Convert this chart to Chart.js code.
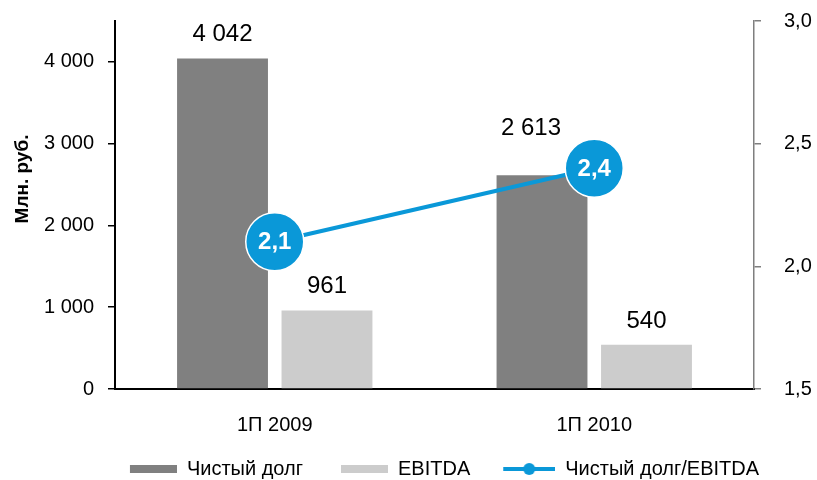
<!DOCTYPE html>
<html>
<head>
<meta charset="utf-8">
<script src="https://cdn.jsdelivr.net/npm/chart.js@4.4.1/dist/chart.umd.min.js"></script>
<style>
  html, body { margin: 0; padding: 0; background: #fff; }
</style>
</head>
<body>
<canvas id="chart" width="817" height="480"></canvas>
<script>
// Data
const categories = ['1П 2009', '1П 2010'];
const netDebt = [4042, 2613];
const ebitda = [961, 540];
const debtToEbitda = [2.1, 2.4];
const leftTicks = [0, 1000, 2000, 3000, 4000];
const rightTicks = [1.5, 2.0, 2.5, 3.0];

const FONT = "'Liberation Sans', Arial, sans-serif";
const BLUE = '#0a98d8';
const DARK = '#808080';
const LIGHT = '#cccccc';

// manual label nudges (x, y) for the bar value labels, per dataset
const labelNudge = [[[0, 0], [-11, -23]], [[0, 0], [0, 0]]];

const fmtThousands = v => String(v).replace(/\B(?=(\d{3})+(?!\d))/g, ' ');
const fmtComma = v => v.toFixed(1).replace('.', ',');

// Legend swatches as small canvases (right aligned inside an 80px box)
function swatch(kind, color) {
    const c = document.createElement('canvas');
    c.width = 80; c.height = 14;
    const g = c.getContext('2d');
    if (kind === 'bar') {
        g.fillStyle = color;
        g.fillRect(33, 3, 47, 8);
    } else {
        g.strokeStyle = color;
        g.lineWidth = 4;
        g.beginPath(); g.moveTo(28, 7); g.lineTo(80, 7); g.stroke();
        g.fillStyle = color;
        g.beginPath(); g.arc(54, 7, 6, 0, Math.PI * 2); g.fill();
    }
    return c;
}

// Value labels above bars and inside line points
const valueLabels = {
    id: 'valueLabels',
    afterDatasetsDraw(chart) {
        const ctx = chart.ctx;
        ctx.save();
        [0, 1].forEach(di => {
            const meta = chart.getDatasetMeta(di);
            meta.data.forEach((bar, i) => {
                const nudge = labelNudge[di][i];
                ctx.font = '24px ' + FONT;
                ctx.fillStyle = '#000';
                ctx.textAlign = 'center';
                ctx.textBaseline = 'alphabetic';
                ctx.fillText(fmtThousands(chart.data.datasets[di].data[i]), bar.x + nudge[0], bar.y - 17 + nudge[1]);
            });
        });
        const lineMeta = chart.getDatasetMeta(2);
        lineMeta.data.forEach((pt, i) => {
            ctx.font = 'bold 24px ' + FONT;
            ctx.fillStyle = '#fff';
            ctx.textAlign = 'center';
            ctx.textBaseline = 'middle';
            ctx.fillText(fmtComma(debtToEbitda[i]), pt.x, pt.y + 1);
        });
        ctx.restore();
    }
};

// Left axis title
const axisTitle = {
    id: 'axisTitle',
    afterDraw(chart) {
        const ctx = chart.ctx;
        ctx.save();
        ctx.translate(23, 179);
        ctx.rotate(-Math.PI / 2);
        ctx.font = 'bold 19px ' + FONT;
        ctx.fillStyle = '#000';
        ctx.textAlign = 'center';
        ctx.textBaseline = 'middle';
        ctx.fillText('Млн. руб.', 0, 0);
        ctx.restore();
    }
};

new Chart(document.getElementById('chart'), {
    type: 'bar',
    data: {
        labels: categories,
        datasets: [
            {
                label: 'Чистый долг',
                data: netDebt,
                backgroundColor: DARK,
                yAxisID: 'y',
                order: 2,
                categoryPercentage: 0.654,
                barPercentage: 0.87,
            },
            {
                label: 'EBITDA',
                data: ebitda,
                backgroundColor: LIGHT,
                yAxisID: 'y',
                order: 2,
                categoryPercentage: 0.654,
                barPercentage: 0.87,
            },
            {
                type: 'line',
                label: 'Чистый долг/EBITDA',
                data: debtToEbitda,
                borderColor: BLUE,
                borderWidth: 4,
                pointRadius: 29,
                pointBackgroundColor: BLUE,
                pointBorderColor: '#ffffff',
                pointBorderWidth: 1.5,
                yAxisID: 'y1',
                order: 1,
            },
        ],
    },
    options: {
        responsive: false,
        animation: false,
        events: [],
        layout: { autoPadding: false, padding: { left: 39, top: 21, right: 0, bottom: 0 } },
        plugins: {
            tooltip: { enabled: false },
            legend: {
                position: 'bottom',
                maxHeight: 26,
                labels: {
                    usePointStyle: true,
                    pointStyleWidth: 80,
                    padding: 5,
                    color: '#000',
                    font: { family: FONT, size: 20 },
                    generateLabels: () => [
                        { text: 'Чистый долг', pointStyle: swatch('bar', DARK), fillStyle: DARK, strokeStyle: DARK, lineWidth: 0 },
                        { text: 'EBITDA', pointStyle: swatch('bar', LIGHT), fillStyle: LIGHT, strokeStyle: LIGHT, lineWidth: 0 },
                        { text: 'Чистый долг/EBITDA', pointStyle: swatch('line', BLUE), fillStyle: BLUE, strokeStyle: BLUE, lineWidth: 0 },
                    ],
                },
            },
        },
        scales: {
            x: {
                grid: { display: false, drawTicks: false },
                border: { display: true, color: '#000', width: 2 },
                ticks: { color: '#000', padding: 24, font: { family: FONT, size: 20 } },
                afterFit: s => { s.height = 65; },
            },
            y: {
                position: 'left',
                min: 0,
                max: 4500,
                afterBuildTicks: s => { s.ticks = leftTicks.map(v => ({ value: v })); },
                grid: { drawOnChartArea: false, color: '#000', tickLength: 7, lineWidth: 1.5 },
                border: { display: true, color: '#000', width: 2 },
                ticks: {
                    color: '#000',
                    padding: 14,
                    font: { family: FONT, size: 20 },
                    callback: v => fmtThousands(v),
                },
                afterFit: s => { s.width = 76; s.paddingTop = 0; s.paddingBottom = 0; },
            },
            y1: {
                position: 'right',
                min: 1.5,
                max: 3.0,
                afterBuildTicks: s => { s.ticks = rightTicks.map(v => ({ value: v })); },
                grid: { drawOnChartArea: false, color: '#7f7f7f', tickLength: 7, lineWidth: 1.5 },
                border: { display: true, color: '#7f7f7f', width: 1.5 },
                ticks: {
                    color: '#000',
                    padding: 23,
                    font: { family: FONT, size: 20 },
                    callback: v => fmtComma(v),
                },
                afterFit: s => { s.width = 63; s.paddingTop = 0; s.paddingBottom = 0; },
            },
        },
    },
    plugins: [valueLabels, axisTitle],
});
</script>
</body>
</html>
